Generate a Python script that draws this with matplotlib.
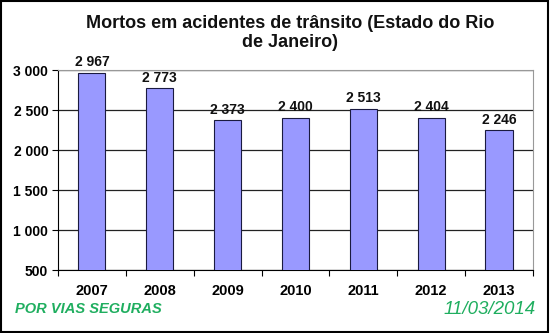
import matplotlib
matplotlib.use("Agg")
import matplotlib.pyplot as plt
from matplotlib.patches import Rectangle

years = ["2007", "2008", "2009", "2010", "2011", "2012", "2013"]
deaths = [2967, 2773, 2373, 2400, 2513, 2404, 2246]
y_ticks = [500, 1000, 1500, 2000, 2500, 3000]

def fmt(v):
    return f"{v:,}".replace(",", " ")

plt.rcParams["font.family"] = ["Liberation Sans", "DejaVu Sans"]

fig = plt.figure(figsize=(5.5, 3.33), dpi=100)
ax = fig.add_axes([58 / 550, 1 - 270 / 333, (533 - 58) / 550, 200 / 333])

x = list(range(len(years)))
ax.bar(x, deaths, width=0.4, color="#9999FF", edgecolor="#1a1a40", linewidth=0.8, zorder=3)
for xi, v in zip(x, deaths):
    ax.text(xi, v + 45, fmt(v), ha="center", va="bottom", fontsize=10,
            fontweight="bold", color="#111111")

ax.set_xlim(-0.5, len(years) - 0.5)
ax.set_ylim(500, 3000)
ax.set_yticks(y_ticks)
ax.set_yticklabels([fmt(t) for t in y_ticks], fontsize=10, fontweight="bold")
ax.set_xticks(x)
ax.set_xticklabels(years, fontsize=10.5, fontweight="bold")
ax.set_xticks([i - 0.5 for i in range(len(years) + 1)], minor=True)
ax.tick_params(axis="x", which="major", length=0, pad=10)
ax.tick_params(axis="x", which="minor", length=4, width=0.8, color="black")
ax.tick_params(axis="y", length=4, width=0.8, pad=3)

ax.grid(axis="y", color="#222222", linewidth=0.9, zorder=0)
for side in ["top", "right"]:
    ax.spines[side].set_color("#999999")
    ax.spines[side].set_linewidth(0.8)
ax.spines["left"].set_color("black")
ax.spines["bottom"].set_color("black")

fig.text(290 / 550, 1 - 33 / 333, "Mortos em acidentes de trânsito (Estado do Rio\nde Janeiro)",
         ha="center", va="center", fontsize=13, fontweight="bold", linespacing=1.15,
         color="#111111")
fig.text(15 / 550, 1 - 309 / 333, "POR VIAS SEGURAS", ha="left", va="center",
         fontsize=10.5, fontweight="bold", fontstyle="italic", color="#1FAE5F")
fig.text(536 / 550, 1 - 309 / 333, "11/03/2014", ha="right", va="center",
         fontsize=13.5, fontstyle="italic", color="#1FAE5F")

fig.add_artist(Rectangle((0.002, 0.003), 0.995, 0.994, transform=fig.transFigure,
                         fill=False, edgecolor="black", linewidth=1.5))

fig.savefig("out.png", dpi=100)
